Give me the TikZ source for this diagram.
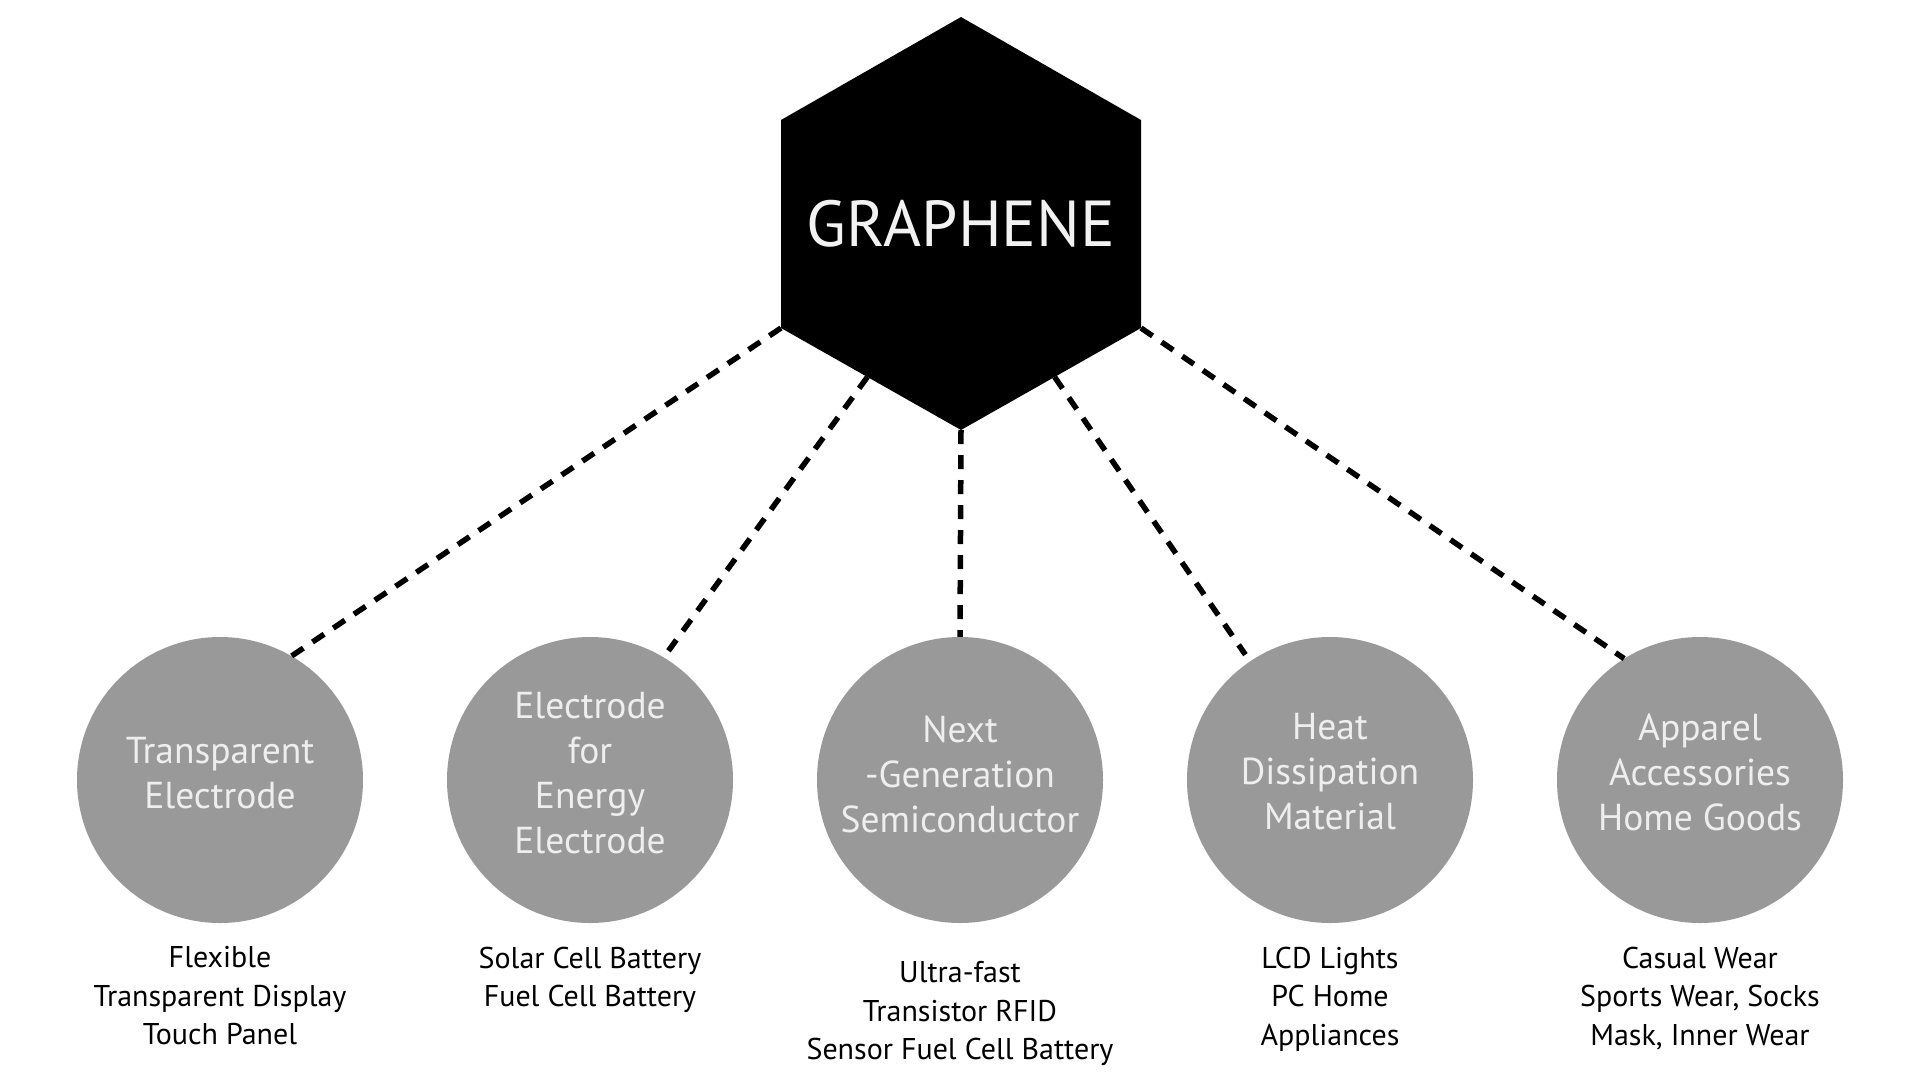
\documentclass[tikz,border=0pt]{standalone}
\usepackage{fontspec}
\setmainfont{PT Sans}
\usetikzlibrary{calc}
\definecolor{circgray}{HTML}{999999}
\definecolor{circtext}{HTML}{EEEEEE}
\definecolor{hextext}{HTML}{F2F2F2}
\begin{document}
\begin{tikzpicture}[x=1pt,y=-1pt,
  conn/.style={line width=5.5pt, dash pattern=on 14pt off 11pt, black},
  appcircle/.style={circle, fill=circgray, minimum size=286pt, inner sep=0pt},
  circtxt/.style={inner sep=0pt, text=circtext, align=center,
    font=\fontsize{37.5}{45}\selectfont},
  applabel/.style={anchor=north, align=center, inner sep=0pt, text=black,
    font=\fontsize{30}{38.5}\selectfont}]
\useasboundingbox (0,0) rectangle (1920,1080);
% hexagon
\coordinate (hT)  at (961,17);
\coordinate (hUR) at (1141,120);
\coordinate (hLR) at (1141,328);
\coordinate (hB)  at (961,430);
\coordinate (hLL) at (781,328);
\coordinate (hUL) at (781,120);
\fill[black] (hT) -- (hUR) -- (hLR) -- (hB) -- (hLL) -- (hUL) -- cycle;
\node[inner sep=0pt, text=hextext, font=\fontsize{65}{78}\selectfont] (gr) at (961,223.5) {GRAPHENE};
\coordinate (hL2) at ($(hLL)!0.48!(hB)$);
\coordinate (hL4) at ($(hLR)!0.48!(hB)$);
% circles
\node[appcircle] (c1) at (220,780) {};
\node[appcircle] (c2) at (590,780) {};
\node[appcircle] (c3) at (960,780) {};
\node[appcircle] (c4) at (1330,780) {};
\node[appcircle] (c5) at (1700,780) {};
\node[circtxt] (t1) at (220,773) {Transparent\\Electrode};
\node[circtxt] (t2) at (590,773) {Electrode\\for\\Energy\\Electrode};
\node[circtxt] (t3) at (960,774) {Next\\-Generation\\Semiconductor};
\node[circtxt] (t4) at (1330,772) {Heat\\Dissipation\\Material};
\node[circtxt] (t5) at (1700,772) {Apparel\\Accessories\\Home Goods};
% labels
\node[applabel] (l1) at (220,946.5) {Flexible\\Transparent Display\\Touch Panel};
\node[applabel] (l2) at (590,946.5) {Solar Cell Battery\\Fuel Cell Battery};
\node[applabel] (l3) at (960,961.5) {Ultra-fast\\Transistor RFID\\Sensor Fuel Cell Battery};
\node[applabel] (l4) at (1330,946.5) {LCD Lights\\PC Home\\Appliances};
\node[applabel] (l5) at (1700,946.5) {Casual Wear\\Sports Wear, Socks\\Mask, Inner Wear};
% connectors
\draw[conn] (hLL) -- (c1.60);
\draw[conn, shorten >=8pt] (hL2) -- (c2.59);
\draw[conn] (hB) -- (c3.north);
\draw[conn, shorten >=8pt] (hL4) -- (c4.124);
\draw[conn] (hLR) -- (c5.122);
\end{tikzpicture}
\end{document}
